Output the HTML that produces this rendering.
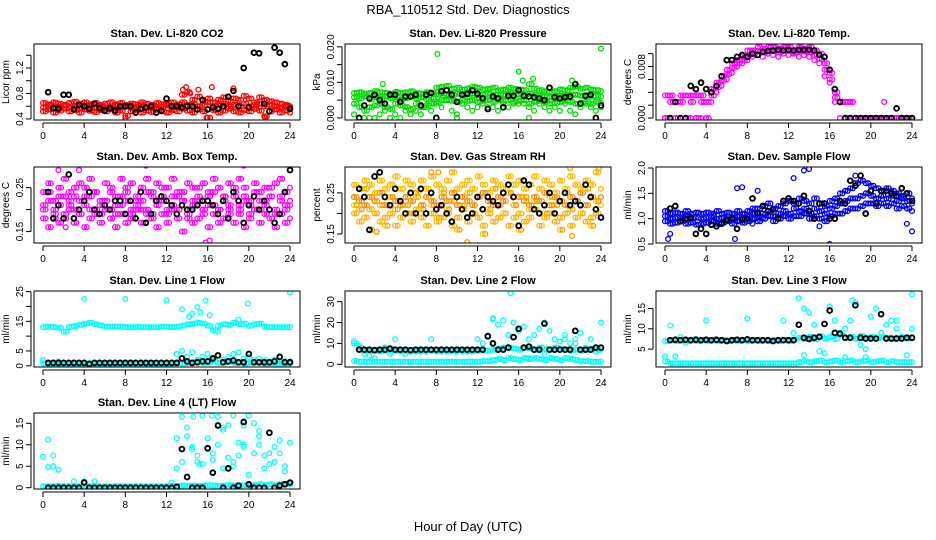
<!DOCTYPE html>
<html><head><meta charset="utf-8"><style>
html,body{margin:0;padding:0;background:#fff;}
svg{display:block;font-family:"Liberation Sans",sans-serif;}
</style></head><body>
<svg id="chart" width="936" height="540" viewBox="0 0 936 540">
<text x="468" y="14" text-anchor="middle" font-size="13">RBA_110512  Std. Dev. Diagnostics</text>
<text x="468" y="531" text-anchor="middle" font-size="13">Hour of Day (UTC)</text>
</svg>
<script>
// ---- shared time arrays (hours) ----
const sampleHours = [0,0.5,1,1.5,2,2.5,3,3.5,4,4.5,5,5.5,6,6.5,7,7.5,8,8.5,9,9.5,10,10.5,11,11.5,12,12.5,13,13.5,14,14.5,15,15.5,16,16.5,17,17.5,18,18.5,19,19.5,20,20.5,21,21.5,22,22.5,23,23.5,24];
const offsetHours = [0.25,0.75,1.25,1.75,2.25,2.75,3.25,3.75,4.25,4.75,5.25,5.75,6.25,6.75,7.25,7.75,8.25,8.75,9.25,9.75,10.25,10.75,11.25,11.75,12.25,12.75,13.25,13.75,14.25,14.75,15.25,15.75,16.25,16.75,17.25,17.75,18.25,18.75,19.25,19.75,20.25,20.75,21.25,21.75,22.25,22.75,23.25,23.75];
const blackHours = [0.5,1,1.5,2,2.5,3,3.5,4,4.5,5,5.5,6,6.5,7,7.5,8,8.5,9,9.5,10,10.5,11,11.5,12,12.5,13,13.5,14,14.5,15,15.5,16,16.5,17,17.5,18,18.5,19,19.5,20,20.5,21,21.5,22,22.5,23,23.5,24];
const xTicks = [0,4,8,12,16,20,24];

// ---- CO2 ----
const co2A = [0.65,0.63,0.66,0.64,0.62,0.65,0.67,0.64,0.66,0.63,0.65,0.62,0.64,0.66,0.63,0.65,0.62,0.64,0.63,0.66,0.64,0.62,0.65,0.63,0.64,0.66,0.63,0.78,0.82,0.7,0.75,0.68,0.72,0.66,0.7,0.74,0.68,0.72,0.7,0.76,0.72,0.66,0.74,0.7,0.68,0.66,0.64,0.62,0.6];
const co2B = [0.52,0.55,0.5,0.53,0.56,0.52,0.54,0.5,0.55,0.53,0.51,0.54,0.52,0.55,0.5,0.53,0.45,0.52,0.54,0.5,0.53,0.51,0.55,0.52,0.5,0.54,0.52,0.56,0.53,0.5,0.55,0.52,0.42,0.54,0.5,0.53,0.56,0.52,0.5,0.54,0.52,0.56,0.53,0.44,0.52,0.55,0.5,0.53,0.5];
const co2C = [0.58,0.6,0.57,0.59,0.61,0.58,0.6,0.57,0.59,0.61,0.58,0.6,0.57,0.59,0.61,0.58,0.6,0.57,0.59,0.61,0.58,0.6,0.57,0.59,0.61,0.58,0.6,0.66,0.62,0.64,0.6,0.62,0.66,0.6,0.62,0.64,0.6,0.62,0.6,0.64,0.6,0.62,0.64,0.6,0.62,0.6,0.58,0.6,0.58];
const co2OutH = [8,13.6,13.9,15.1,16.4,18.5,21.6,15.9,14.3];
const co2OutV = [0.42,0.86,0.9,0.86,0.9,0.88,0.43,0.42,0.8];
const co2Black = [0.82,0.57,0.56,0.78,0.78,0.55,0.62,0.6,0.56,0.64,0.57,0.53,0.57,0.53,0.6,0.6,0.6,0.5,0.56,0.58,0.6,0.5,0.53,0.72,0.6,0.6,0.58,0.6,0.6,0.55,0.7,0.55,0.58,0.56,0.6,0.75,0.84,0.6,1.2,0.58,1.44,1.43,0.64,0.52,1.52,1.44,1.26,0.56];

// ---- Pressure ----
const presA = [0.007,0.0072,0.0068,0.007,0.0075,0.0072,0.007,0.0068,0.0073,0.007,0.0072,0.0075,0.007,0.0068,0.0072,0.007,0.0085,0.0088,0.009,0.0082,0.0085,0.008,0.0083,0.0088,0.0085,0.008,0.0082,0.0085,0.0078,0.008,0.0085,0.0082,0.008,0.0078,0.0095,0.0082,0.0078,0.0075,0.0072,0.0075,0.008,0.0078,0.0085,0.0088,0.0082,0.0085,0.008,0.0078,0.0075];
const presB = [0.004,0.003,0.002,0.003,0.0035,0.004,0.003,0.0025,0.004,0.0035,0.003,0.0025,0.004,0.003,0.0035,0.004,0.0045,0.005,0.005,0.0048,0.0045,0.005,0.0048,0.005,0.0045,0.0048,0.005,0.0045,0.005,0.0048,0.005,0.0045,0.0048,0.005,0.004,0.0045,0.0048,0.0045,0.004,0.0042,0.0045,0.0048,0.0045,0.004,0.0042,0.0045,0.004,0.0045,0.0042];
const presC = [0.001,0,0,0,0,0.001,0.002,0,0.001,0,0.002,0.001,0.002,0.001,0.003,0.002,0.004,0.003,0.005,0.002,0.001,0.004,0.003,0.002,0.003,0.004,0.003,0.003,0.002,0.004,0.003,0.004,0.004,0.004,0.003,0.002,0.004,0.003,0.002,0.003,0.002,0.004,0.002,0.001,0.003,0.004,0.003,0.002,0.003];
const presD = [0.0058,0.0055,0.006,0.0052,0.0058,0.0055,0.006,0.0056,0.0058,0.0052,0.0056,0.006,0.0055,0.0058,0.0052,0.0056,0.0065,0.0068,0.0066,0.0064,0.0068,0.0065,0.0066,0.0068,0.0064,0.0066,0.0068,0.0065,0.0066,0.0064,0.0068,0.0065,0.0066,0.0064,0.0068,0.0065,0.0062,0.006,0.0058,0.006,0.0062,0.0064,0.0066,0.0065,0.0062,0.0064,0.006,0.0062,0.006];
const presOutH = [8.1,16,16.4,17.4,2.8,24,10,17,21.2];
const presOutV = [0.018,0.013,0.0105,0.011,0.0095,0.0195,0,0,0.0105];
const presBlack = [0,0.0035,0.0055,0.0065,0.005,0.004,0.0065,0.0065,0.0045,0.006,0.006,0.0065,0.0035,0.0065,0.007,0,0.0075,0.0078,0.0065,0.0045,0.0065,0.0068,0.0078,0.0068,0.0055,0.0025,0.006,0.0055,0.003,0.0062,0.0062,0.0078,0.0062,0.006,0.0058,0.0055,0.005,0.0085,0.0058,0.0055,0.0058,0.006,0.0095,0.004,0.0062,0.0065,0,0.0035];

// ---- Li-820 Temp ----
const tempA = [0.0035,0.0035,0.0025,0.0035,0.0035,0.0035,0.0035,0.0035,0.0025,0.0045,0.0055,0.0065,0.0075,0.0085,0.009,0.0095,0.0105,0.0105,0.011,0.0108,0.011,0.011,0.0108,0.011,0.011,0.0105,0.011,0.0108,0.011,0.0105,0.01,0.0085,0.007,0.004,0.0025,0.0025,0.0025,0,0,0,0,0,0,0,0,0,0,0,0];
const tempB = [0,0,0,0,0,0,0,0,0,0.0025,0.004,0.005,0.006,0.007,0.008,0.0085,0.009,0.0095,0.0098,0.0095,0.01,0.0098,0.0095,0.01,0.0098,0.01,0.0095,0.0098,0.0095,0.009,0.0085,0.0065,0.0055,0.0025,0,0,0,0,0,0,0,0,0,0,0,0,0,0,0];
const tempC = [0,0.0025,0,0.0025,0,0.0025,0,0.0025,0,0.0035,0.0048,0.0058,0.0068,0.0078,0.0085,0.009,0.0098,0.01,0.0104,0.0102,0.0105,0.0104,0.0102,0.0105,0.0104,0.0102,0.0104,0.0103,0.0102,0.0098,0.0092,0.0075,0.006,0.0032,0.0025,0,0.0025,0,0,0,0,0,0,0,0,0,0,0,0];
const tempOutH = [21.3,17.5,18];
const tempOutV = [0.0025,0.0025,0.0025];
const tempBlack = [0,0.0025,0,0,0.005,0.0045,0.0055,0.0045,0.004,0.005,0.0065,0.009,0.009,0.0095,0.0098,0.0095,0.01,0.0098,0.0103,0.0104,0.0105,0.0106,0.0105,0.0106,0.0105,0.0106,0.0106,0.0106,0.0105,0.0098,0.0095,0.0075,0.0045,0.0025,0,0,0,0,0,0,0,0,0,0,0.0015,0,0,0];

// ---- Amb Box Temp ----
const ambA = [0.24,0.26,0.22,0.25,0.27,0.24,0.23,0.26,0.25,0.27,0.24,0.22,0.26,0.25,0.23,0.27,0.24,0.26,0.22,0.25,0.27,0.24,0.26,0.23,0.25,0.27,0.24,0.22,0.26,0.25,0.23,0.26,0.24,0.27,0.25,0.23,0.26,0.24,0.27,0.25,0.22,0.26,0.24,0.25,0.23,0.26,0.27,0.24,0.25];
const ambB = [0.18,0.16,0.19,0.17,0.18,0.2,0.17,0.19,0.16,0.18,0.19,0.17,0.2,0.18,0.16,0.19,0.17,0.18,0.2,0.17,0.19,0.18,0.16,0.19,0.17,0.2,0.18,0.15,0.19,0.17,0.18,0.2,0.16,0.19,0.17,0.18,0.2,0.17,0.19,0.16,0.18,0.2,0.17,0.19,0.18,0.16,0.19,0.17,0.18];
const ambC = [0.21,0.22,0.2,0.21,0.23,0.21,0.2,0.22,0.21,0.23,0.2,0.21,0.22,0.2,0.21,0.23,0.22,0.2,0.21,0.22,0.2,0.23,0.21,0.22,0.2,0.21,0.23,0.22,0.2,0.21,0.22,0.2,0.23,0.21,0.2,0.22,0.21,0.23,0.2,0.22,0.21,0.2,0.22,0.21,0.23,0.2,0.22,0.21,0.22];
const ambD = [0.2,0.24,0.18,0.23,0.19,0.22,0.25,0.19,0.23,0.2,0.24,0.19,0.22,0.24,0.19,0.21,0.25,0.19,0.23,0.2,0.24,0.19,0.22,0.25,0.19,0.23,0.2,0.24,0.18,0.22,0.25,0.19,0.21,0.24,0.2,0.23,0.19,0.25,0.21,0.23,0.19,0.24,0.2,0.22,0.25,0.19,0.23,0.2,0.21];
const ambOutH = [1.5,10,15.8,3.5,19.5,2.2,16.2];
const ambOutV = [0.29,0.3,0.125,0.29,0.3,0.16,0.13];
const ambBlack = [0.24,0.18,0.21,0.18,0.28,0.18,0.2,0.22,0.24,0.2,0.19,0.21,0.2,0.22,0.22,0.19,0.22,0.18,0.24,0.17,0.19,0.22,0.23,0.22,0.21,0.19,0.21,0.2,0.2,0.21,0.22,0.22,0.21,0.19,0.22,0.18,0.24,0.22,0.17,0.21,0.23,0.2,0.22,0.2,0.17,0.19,0.24,0.29];

// ---- Gas Stream RH ----
const gasA = [0.27,0.26,0.28,0.27,0.25,0.28,0.26,0.27,0.29,0.26,0.28,0.27,0.25,0.28,0.26,0.29,0.27,0.26,0.28,0.3,0.26,0.27,0.28,0.26,0.29,0.27,0.25,0.28,0.27,0.26,0.29,0.27,0.28,0.26,0.27,0.29,0.26,0.28,0.27,0.25,0.28,0.26,0.29,0.27,0.26,0.28,0.27,0.3,0.26];
const gasB = [0.2,0.18,0.19,0.21,0.2,0.18,0.19,0.2,0.17,0.19,0.2,0.18,0.21,0.19,0.17,0.2,0.18,0.19,0.2,0.17,0.19,0.21,0.18,0.2,0.19,0.17,0.2,0.18,0.19,0.2,0.17,0.19,0.2,0.18,0.19,0.21,0.17,0.19,0.2,0.18,0.19,0.2,0.17,0.19,0.2,0.18,0.19,0.2,0.19];
const gasC = [0.24,0.23,0.22,0.24,0.23,0.25,0.22,0.24,0.23,0.22,0.24,0.23,0.25,0.22,0.24,0.23,0.22,0.24,0.23,0.25,0.22,0.24,0.23,0.22,0.24,0.25,0.23,0.22,0.24,0.23,0.25,0.22,0.24,0.23,0.22,0.24,0.23,0.25,0.22,0.24,0.23,0.22,0.24,0.23,0.25,0.22,0.24,0.23,0.24];
const gasD = [0.22,0.21,0.26,0.16,0.25,0.22,0.17,0.24,0.21,0.26,0.22,0.2,0.24,0.21,0.26,0.22,0.19,0.25,0.21,0.23,0.16,0.22,0.25,0.2,0.24,0.15,0.21,0.26,0.22,0.2,0.25,0.22,0.16,0.24,0.21,0.23,0.26,0.2,0.24,0.22,0.16,0.25,0.21,0.23,0.2,0.26,0.17,0.23,0.22];
const gasOutH = [11,21.2,7.5,8.2,21,23.8,2.2];
const gasOutV = [0.13,0.145,0.3,0.3,0.31,0.31,0.155];
const gasBlack = [0.26,0.24,0.16,0.29,0.3,0.24,0.22,0.26,0.23,0.2,0.25,0.2,0.26,0.2,0.25,0.21,0.22,0.2,0.18,0.24,0.21,0.19,0.2,0.24,0.21,0.24,0.23,0.22,0.25,0.27,0.24,0.17,0.28,0.27,0.21,0.2,0.22,0.25,0.2,0.23,0.25,0.22,0.23,0.22,0.27,0.24,0.21,0.19];

// ---- Sample Flow ----
const flowA = [1.15,1.1,1.12,1.1,1.15,1.1,1.12,1.1,1.12,1.1,1.15,1.1,1.12,1.1,1.15,1.1,1.15,1.2,1.2,1.25,1.3,1.2,1.25,1.3,1.35,1.3,1.4,1.35,1.3,1.4,1.3,1.25,1.35,1.4,1.5,1.55,1.6,1.7,1.75,1.7,1.65,1.6,1.55,1.6,1.55,1.5,1.45,1.5,1.4];
const flowB = [0.95,0.9,0.92,0.95,0.9,0.92,0.88,0.9,0.92,0.95,0.9,0.92,0.95,0.9,0.95,0.92,0.95,1.0,0.95,1.0,1.05,0.95,1.0,1.05,1.0,1.05,1.05,1.1,1.0,1.05,1.0,0.95,1.05,1.1,1.1,1.15,1.2,1.2,1.25,1.3,1.3,1.25,1.3,1.25,1.3,1.2,1.25,1.2,1.15];
const flowC = [1.05,1.0,1.02,1.0,1.05,1.0,1.02,1.0,1.02,1.05,1.0,1.02,1.05,1.0,1.05,1.0,1.05,1.1,1.05,1.1,1.15,1.05,1.1,1.15,1.1,1.2,1.15,1.2,1.1,1.2,1.15,1.1,1.2,1.25,1.3,1.35,1.4,1.4,1.45,1.5,1.45,1.4,1.45,1.4,1.45,1.35,1.4,1.35,1.3];
const flowOutH = [0.3,0.5,6.8,7,7.5,13.5,14,16,23.5,24,12.5,9,18.5,19,8.5,15];
const flowOutV = [0.6,0.7,0.6,1.6,1.62,1.95,1.98,0.5,0.9,0.75,1.8,1.55,1.85,1.85,0.9,0.85];
const flowBlack = [1.2,1.25,0.95,1.0,1.02,0.7,0.8,0.7,0.88,0.85,0.9,0.98,1.0,0.8,0.98,1.0,1.4,1.1,1.25,1.15,1.18,1.0,1.35,1.4,1.35,1.3,1.45,1.15,1.0,1.3,1.3,1.0,1.0,1.35,1.3,1.75,1.65,1.85,1.1,1.55,1.3,1.55,1.55,1.5,1.45,1.6,1.5,1.35];

// ---- Line 1 Flow ----
const l1A = [13,13.2,13,12.8,11.5,13,13.4,13.8,14.2,14.5,14,13.6,13.2,13.2,13.2,13.2,13,13,13.1,13,13,13,13,13.2,13.1,13,13.2,13.5,14,14.2,14.5,14.2,13.5,12,13.5,14,13.8,14.5,14,14.2,13.5,14,14.2,13.2,13,13,13,13,13];
const l1B = [0.8,0.6,0.6,0.7,0.6,0.7,0.8,0.6,0.7,0.7,0.6,0.6,0.7,0.6,0.7,0.6,0.7,0.6,0.7,0.7,0.6,0.6,0.7,0.6,0.7,0.8,1.0,0.8,1.0,1.2,1.5,1.0,1.2,1.5,1.0,1.2,1.5,1.0,1.2,0.8,1.0,1.2,1.0,0.8,0.9,0.8,0.8,0.8,0.8];
const l1C = [2,1,1,1.5,1,1,1,1,1,1,1,1,1,1,1,1,1,1,1,1,1,1,1,1,1,1,4,5,3,4.5,2,3,4,2,3.5,2,3,4,4.5,2.5,3,2,2.5,2,1.5,2,1.5,1.5,1.5];
const l1OutH = [4,8,12,24,13.5,14.2,14.5,15,15.3,15.8,16.2,19,19.9,17];
const l1OutV = [22.5,22.5,22,24.8,19,16.5,17.5,19.8,18,22,17,15.5,21,11.5];
const l1Black = [1,1,1,1,1,1,1,1,0.6,1,1,1,1,1,1,1,1,1,1,1,1,1,1,1,1,1,2.5,1.5,1,1.2,1.5,1.5,2.5,3.5,1.2,1.5,1.8,1.2,1.2,4,1.2,1.2,1.2,1.2,1.5,3,1.2,1.2];

// ---- Line 2 Flow ----
const l2A = [10,8,6.5,6.5,6.5,6.5,6.5,6.5,6.5,6.5,6.5,6.5,6.5,6.5,6.5,6.5,6.5,6.5,6.5,6.5,6.5,6.5,6.5,6.5,6.5,6.5,6.5,7,7.5,8,8,7.5,7,8,7.5,7,8,7.5,7,8,7.5,7,6.5,7,6.5,7,7.5,7,7];
const l2B = [1.5,1.2,1.2,1.2,1.2,1.2,1.2,1.2,1.2,1.2,1.2,1.2,1.2,1.2,1.2,1.2,1.2,1.2,1.2,1.2,1.2,1.2,1.2,1.2,1.2,1.5,1.5,2,2.5,2,3,2.5,2,3,2.5,3,2.5,2,3,2.5,2,3,2.5,2,1.5,1.5,1.2,1.2,1.2];
const l2C = [11,9,5,4,3,6,8,5,12,6,5,6,6,6,6,12,6,6,6,6,6,6,6,6,12,10,13,22,19,21,14,20,16,18,12,14,17,20,16,12,11,14,10,12,15,8,12,6,20];
const l2OutH = [15.2,13.5,17,18.5,20.5,21.5];
const l2OutV = [34,21.5,3,5,12,10];
const l2Black = [7,7,7,6.8,7,7,7.5,7,7,7,6.8,7,7,7,7,7,7,7,7,7,7,7,7,7,7,13.5,10,7,7,8,13,17,8,8.5,7,7,19.5,7,7,7,7,7,16,7,7,7,8,8];

// ---- Line 3 Flow ----
const l3A = [7,7.2,7,7.2,7,7.2,7,7.2,7,7.2,7,7.2,7,7.2,7,7.2,7,7.2,7,7.2,7,7.2,7,7.2,7,7.4,7.8,7.5,8,7.5,8.2,7.6,8,7.5,8.5,7.8,8,7.6,8.2,7.8,8,7.6,8,7.8,7.5,7.8,7.8,7.6,7.8];
const l3B = [2,1.5,1.5,1.5,1.5,1.5,1.5,1.5,1.5,1.5,1.5,1.5,1.5,1.5,1.5,1.5,1.5,1.5,1.5,1.5,1.5,1.5,1.5,1.5,1.5,1.5,1.8,2,1.8,2,2.2,1.8,2,2.2,1.8,2,2.2,1.8,2,2.2,1.8,2,2.2,1.8,2,1.8,1.8,1.8,1.8];
const l3C = [3.2,10.8,3.2,8,6.5,7,7.5,7,12,7,7,7,7,7,7,7,12.5,7,7,7,7,7,7,12,7,9,17.5,15,14,11,4.5,4,15.5,12,9,10,12,16.5,6,5,13,15,9,11,12,10,8,3.5,10];
const l3OutH = [24,22.5,17.5,13.5,19.5,18.2];
const l3OutV = [18.5,12,3,3.5,3,17];
const l3Black = [7.2,7.3,7.2,7.3,7.2,7.3,7.2,7.3,7.2,7.3,7.2,7,7.2,7.3,7.2,7.4,7.2,7.2,7.2,7.2,7,7.2,7.2,7.2,7.2,11,7.8,7.5,7.8,8,11.2,14.5,9,8.8,7.8,7.8,15.8,7.8,7.6,7.6,7.6,13.6,7.6,7.6,7.6,7.6,7.8,7.8];

// ---- Line 4 (LT) Flow ----
const l4A = [0.3,0.3,0.3,0.3,0.3,0.3,0.3,0.3,0.3,0.3,0.3,0.3,0.3,0.3,0.3,0.3,0.3,0.3,0.3,0.3,0.3,0.3,0.3,0.3,0.3,0.3,0.4,0.5,0.4,0.5,0.4,0.5,0.6,0.5,0.4,0.5,0.6,0.5,0.4,0.6,0.5,0.6,0.8,0.6,0.8,0.6,0.8,0.9,0.8];
const l4C = [7.2,11.2,5,0.5,0.2,0.3,0.2,0.3,1.5,0.3,1.5,0.3,0.3,0.3,0.3,0.3,0.3,0.3,0.3,0.3,0.3,0.3,0.3,0.3,0.3,0.5,4.5,16.5,14,9,6,16.8,11.5,8,16.5,13.5,7,5,10.5,14.5,16.8,15,12,7.5,5.5,9.5,11,3.8,10.5];
const l4D = [0.3,4.8,7.5,4.2,0.3,0.3,1.5,0.3,0.3,0.3,0.3,0.3,0.3,0.3,0.3,0.3,0.3,0.3,0.3,0.3,0.3,0.3,0.3,0.3,0.3,1.2,11.5,6,12,9.5,7.5,5.5,9,6.5,10,4.5,14.5,6,7.5,9.5,3,8,10,4.5,8,6,8,5,1];
const l4OutH = [14.6,16.4,18.5,19.5,21,15.2,17.5];
const l4OutV = [16.5,16.8,16.8,10,13.2,5.5,14];
const l4Black = [0,0,0,0,0,0,0,1.2,0,0,0,0,0,0,0,0,0,0,0,0,0,0,0,0,0,0.2,9,2.5,0,0,0,9.2,3.5,14.5,0,4.5,0,0.5,15.3,0.8,0,0,0,12.8,0,0.5,0.8,1.2];

// ---- y axis ticks ----
const co2Ticks=[0.4,0.6,0.8,1.0,1.2,1.4], co2Labels=['0.4','','0.8','','1.2',''];
const presTicks=[0,0.005,0.01,0.015,0.02], presLabels=['0.000','','0.010','','0.020'];
const tempTicks=[0,0.002,0.004,0.006,0.008,0.010], tempLabels=['0.000','','','','0.008',''];
const ambTicks=[0.15,0.2,0.25], ambLabels=['0.15','','0.25'];
const gasTicks=[0.15,0.2,0.25], gasLabels=['0.15','','0.25'];
const flowTicks=[0.5,1.0,1.5,2.0], flowLabels=['0.5','1.0','1.5','2.0'];
const l1Ticks=[0,5,10,15,20,25], l1Labels=['0','5','','15','','25'];
const l2Ticks=[0,10,20,30], l2Labels=['0','10','20','30'];
const l3Ticks=[5,10,15], l3Labels=['5','10','15'];
const l4Ticks=[0,5,10,15], l4Labels=['0','5','10','15'];

const NS='http://www.w3.org/2000/svg';
const svg=document.getElementById('chart');
const rowTop=[44,167,291,413], colLeft=[34,345,656], boxW=266, boxH=76;

function mk(tag,attrs,parent){const e=document.createElementNS(NS,tag);for(const k in attrs)e.setAttribute(k,attrs[k]);(parent||svg).appendChild(e);return e;}

function panel(name,title,ylab,row,col,yMin,yMax,ticks,labels,series,black){
  const L=colLeft[col],T=rowTop[row],R=L+boxW,B=T+boxH;
  const g=mk('g',{});
  
  
  const xs=h=>L+9+h*(247/24);
  const ys=v=>B-(v-yMin)/(yMax-yMin)*boxH;
  const t=mk('text',{x:(L+R)/2,y:T-7,'text-anchor':'middle','font-size':'11','font-weight':'bold'},g);
  t.textContent=title;
  
  
  const yl=mk('text',{x:0,y:0,transform:`translate(${L-25},${(T+B)/2}) rotate(-90)`,'text-anchor':'middle','font-size':'10'},g);
  yl.textContent=ylab;
  
  
  const xa=mk('g',{},g);
  
  
  mk('line',{x1:xs(0),x2:xs(24),y1:B+3,y2:B+3,stroke:'#000'},xa);
  xTicks.forEach(h=>{mk('line',{x1:xs(h),x2:xs(h),y1:B+3,y2:B+8,stroke:'#000'},xa);
    const tl=mk('text',{x:xs(h),y:B+19,'text-anchor':'middle','font-size':'10'},xa);tl.textContent=h;
    
    });
  const ya=mk('g',{},g);
  
  
  mk('line',{x1:L-3,x2:L-3,y1:ys(ticks[0]),y2:ys(ticks[ticks.length-1]),stroke:'#000'},ya);
  ticks.forEach((v,i)=>{const y=ys(v);mk('line',{x1:L-8,x2:L-3,y1:y,y2:y,stroke:'#000'},ya);
    if(labels[i]){const tl=mk('text',{x:0,y:0,transform:`translate(${L-11},${y}) rotate(-90)`,'text-anchor':'middle','font-size':'10'},ya);tl.textContent=labels[i];
    
    }});
  const cid='clip'+name;
  const cp=mk('clipPath',{id:cid},g);mk('rect',{x:L,y:T,width:boxW,height:boxH},cp);
  const pts=mk('g',{'clip-path':`url(#${cid})`,fill:'none','stroke-width':'1.3'},g);
  series.forEach(s=>{
    const sg=mk('g',{stroke:s.color},pts);
    
    
    s.v.forEach((v,i)=>{if(i>=s.h.length)return;const c=mk('circle',{cx:xs(s.h[i]),cy:ys(v),r:2.4},sg);
      
      });
  });
  const bg=mk('g',{stroke:'#000','stroke-width':'1.9'},pts);
  
  
  black.forEach((v,i)=>{const c=mk('circle',{cx:xs(blackHours[i]),cy:ys(v),r:2.4},bg);
    
    });
  const box=mk('rect',{x:L,y:T,width:boxW,height:boxH,fill:'none',stroke:'#000'},g);
  
  
}
// each band series is drawn at the main samples and at the intermediate (offset) samples
const S=(v,c)=>({h:sampleHours,v:v,color:c});
const Q=(v,c)=>({h:offsetHours,v:v,color:c});
const O=(h,v,c)=>({h:h,v:v,color:c});
panel('co2','Stan. Dev. Li-820 CO2','Licor ppm',0,0,0.384,1.576,co2Ticks,co2Labels,
  [S(co2A,'#f00'),S(co2B,'#f00'),S(co2C,'#f00'),Q(co2C,'#f00'),Q(co2A,'#f00'),Q(co2B,'#f00'),O(co2OutH,co2OutV,'#f00')],co2Black);
panel('pressure','Stan. Dev. Li-820 Pressure','kPa',0,1,-0.0006,0.0208,presTicks,presLabels,
  [S(presA,'#0d0'),S(presB,'#0d0'),S(presC,'#0d0'),S(presD,'#0d0'),Q(presD,'#0d0'),Q(presA,'#0d0'),Q(presB,'#0d0'),O(presOutH,presOutV,'#0d0')],presBlack);
panel('licor-temp','Stan. Dev. Li-820 Temp.','degrees C',0,2,-0.0003,0.0115,tempTicks,tempLabels,
  [S(tempA,'#f0f'),S(tempB,'#f0f'),S(tempC,'#f0f'),Q(tempC,'#f0f'),Q(tempA,'#f0f'),O(tempOutH,tempOutV,'#f0f')],tempBlack);
panel('amb-temp','Stan. Dev. Amb. Box Temp.','degrees C',1,0,0.124,0.297,ambTicks,ambLabels,
  [S(ambA,'#f0f'),S(ambB,'#f0f'),S(ambC,'#f0f'),S(ambD,'#f0f'),Q(ambD,'#f0f'),Q(ambC,'#f0f'),Q(ambA,'#f0f'),Q(ambB,'#f0f'),O(ambOutH,ambOutV,'#f0f')],ambBlack);
panel('gas-rh','Stan. Dev. Gas Stream RH','percent',1,1,0.128,0.313,gasTicks,gasLabels,
  [S(gasA,'#ffb000'),S(gasB,'#ffb000'),S(gasC,'#f08000'),S(gasD,'#ffc800'),Q(gasD,'#f0a000'),Q(gasC,'#ff9000'),Q(gasA,'#ffc000'),Q(gasB,'#ffb000'),O(gasOutH,gasOutV,'#f0a000')],gasBlack);
panel('sample-flow','Stan. Dev. Sample Flow','ml/min',1,2,0.52,2.02,flowTicks,flowLabels,
  [S(flowA,'#00f'),S(flowB,'#00f'),S(flowC,'#00f'),Q(flowC,'#00f'),Q(flowA,'#00f'),Q(flowB,'#00f'),O(flowOutH,flowOutV,'#00f')],flowBlack);
panel('line1','Stan. Dev. Line 1 Flow','ml/min',2,0,-0.4,25.2,l1Ticks,l1Labels,
  [S(l1A,'#0ff'),S(l1B,'#0ff'),S(l1C,'#0ff'),Q(l1A,'#0ff'),Q(l1B,'#0ff'),O(l1OutH,l1OutV,'#0ff')],l1Black);
panel('line2','Stan. Dev. Line 2 Flow','ml/min',2,1,-1.3,35.1,l2Ticks,l2Labels,
  [S(l2A,'#0ff'),S(l2B,'#0ff'),S(l2C,'#0ff'),Q(l2A,'#0ff'),Q(l2B,'#0ff'),O(l2OutH,l2OutV,'#0ff')],l2Black);
panel('line3','Stan. Dev. Line 3 Flow','ml/min',2,2,0.6,19.3,l3Ticks,l3Labels,
  [S(l3A,'#0ff'),S(l3B,'#0ff'),S(l3C,'#0ff'),Q(l3A,'#0ff'),Q(l3B,'#0ff'),O(l3OutH,l3OutV,'#0ff')],l3Black);
panel('line4','Stan. Dev. Line 4 (LT) Flow','ml/min',3,0,-0.3,17.4,l4Ticks,l4Labels,
  [S(l4A,'#0ff'),S(l4C,'#0ff'),S(l4D,'#0ff'),Q(l4A,'#0ff'),O(l4OutH,l4OutV,'#0ff')],l4Black);
</script>
</body></html>
